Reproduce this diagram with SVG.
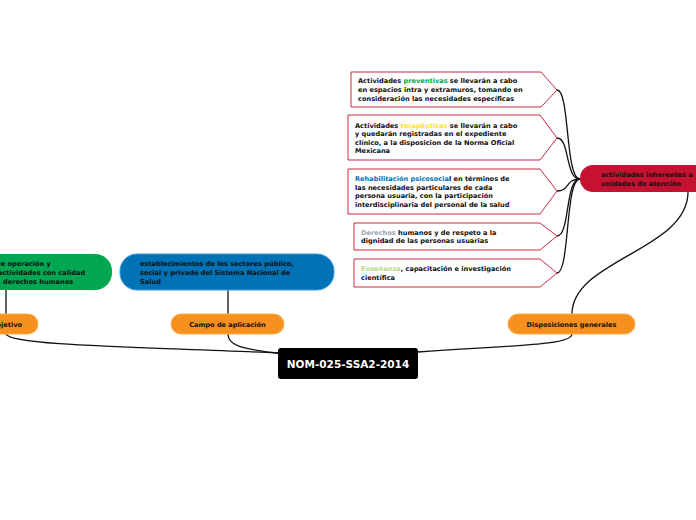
<svg xmlns="http://www.w3.org/2000/svg" width="696" height="520" viewBox="0 0 696 520">
<style>
text{font-family:"DejaVu Sans",Verdana,sans-serif;font-weight:bold;font-size:6.6px;fill:#111}
.c{fill:none;stroke:#111;stroke-width:1.3}
.box{fill:#fff;stroke:#c41230;stroke-width:0.9}
.or{fill:#f7901e;stroke:#f9b04a;stroke-width:1}
</style>
<rect width="696" height="520" fill="#fff"/>
<g id="connectors">
<path class="c" d="M278,353 C150,347 10,346 6,334"/>
<path class="c" d="M278,353 C240,349 228,345 228,334"/>
<path class="c" d="M418,352 C520,345 572,345 572,334"/>
<path class="c" d="M6,314 L6,290"/>
<path class="c" d="M228,314 L228,290"/>
<path class="c" d="M572,314 C572,260 688,250 688,192"/>
<path class="c" d="M580,179 C565,179 570,90 557,90"/>
<path class="c" d="M580,179 C565,179 570,138 557,138"/>
<path class="c" d="M580,179 C565,179 570,191 557,191"/>
<path class="c" d="M580,179 C565,179 570,236 557,236"/>
<path class="c" d="M580,179 C565,179 570,273 557,273"/>
</g>
<g id="root"><rect x="278" y="348" width="140" height="31" rx="3" fill="#000"/><text x="348" y="368" text-anchor="middle" style="font-size:10.5px;fill:#fff">NOM-025-SSA2-2014</text></g>
<g id="objetivo"><rect class="or" x="-30" y="314" width="68" height="20" rx="10"/><text x="22" y="327" text-anchor="end">Objetivo</text></g>
<g id="green"><rect x="-40" y="254" width="152" height="36" rx="17" fill="#00a650"/><text x="-4" y="266">de operación y</text><text x="-2" y="275">actividades con calidad</text><text x="3" y="284">derechos humanos</text></g>
<g id="campo"><rect class="or" x="171" y="314" width="113" height="20" rx="10"/><text x="227.5" y="327" text-anchor="middle">Campo de aplicación</text></g>
<g id="blue"><rect x="120" y="254" width="214" height="36" rx="17" fill="#0072b5" stroke="#3a9ad9"/><text x="140" y="266">establecimientos de los sectores público,</text><text x="140" y="275">social y privado del Sistema Nacional de</text><text x="140" y="284">Salud</text></g>
<g id="disp"><rect class="or" x="508" y="314" width="127" height="20" rx="10"/><text x="571.5" y="327" text-anchor="middle">Disposiciones generales</text></g>
<g id="red"><rect x="580" y="165" width="130" height="27" rx="13" fill="#c41230"/><text x="601" y="177">actividades inherentes a</text><text x="601" y="186">unidades de atención</text></g>
<g id="b1"><path class="box" d="M351,72 H541 L557,90 L541,107 H351 Z"/><text x="358" y="83">Actividades <tspan fill="#00a650">preventivas</tspan> se llevarán a cabo</text><text x="358" y="92">en espacios intra y extramuros, tomando en</text><text x="358" y="101">consideración las necesidades específicas</text></g>
<g id="b2"><path class="box" d="M348,115 H540 L557,138 L540,160 H348 Z"/><text x="355" y="128">Actividades <tspan fill="#ffe11a">terapéuticas</tspan> se llevarán a cabo</text><text x="355" y="136">y quedarán registradas en el expediente</text><text x="355" y="145">clínico, a la disposicion de la Norma Oficial</text><text x="355" y="153">Mexicana</text></g>
<g id="b3"><path class="box" d="M348,169 H540 L557,191 L540,214 H348 Z"/><text x="355" y="181"><tspan fill="#0072b5">Rehabilitación psicosocia</tspan>l en términos de</text><text x="355" y="190">las necesidades particulares de cada</text><text x="355" y="198">persona usuaria, con la participación</text><text x="355" y="207">interdisciplinaria del personal de la salud</text></g>
<g id="b4"><path class="box" d="M354,223 H540 L557,236 L540,250 H354 Z"/><text x="361" y="235"><tspan fill="#9aa5b1">Derechos</tspan> humanos y de respeto a la</text><text x="361" y="243">dignidad de las personas usuarias</text></g>
<g id="b5"><path class="box" d="M354,259 H540 L557,273 L540,287 H354 Z"/><text x="361" y="271"><tspan fill="#b5d98a">Enseñanza</tspan>, capacitación e investigación</text><text x="361" y="280">científica</text></g>
</svg>
